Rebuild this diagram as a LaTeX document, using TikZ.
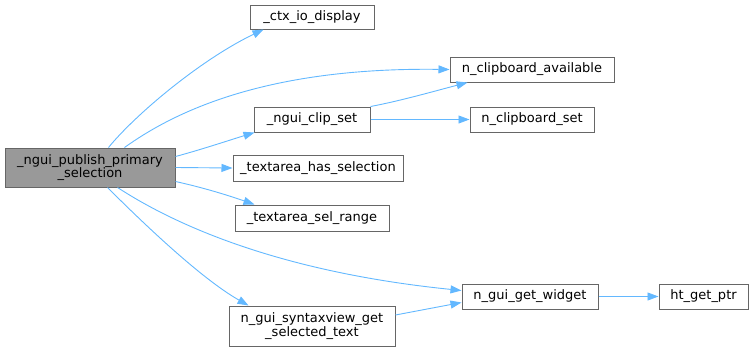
\documentclass[tikz,border=0pt]{standalone}
\usepackage{fontspec}
\setmainfont{DejaVu Sans}
\usetikzlibrary{arrows.meta,calc}
\definecolor{edgeblue}{HTML}{63B8FF}
\definecolor{nodeborder}{HTML}{666666}
\definecolor{mainfill}{HTML}{999999}
\begin{document}
\begin{tikzpicture}[x=1pt,y=-1pt,
  fn/.style={draw=nodeborder, line width=1pt, fill=white, inner sep=0pt,
    font=\fontsize{13}{13.5}\selectfont, align=center, anchor=center},
  call/.style={draw=edgeblue, line width=0.9pt, -{Triangle[length=11pt,width=8pt]}}]
\useasboundingbox (0,0) rectangle (756,351);

\node[fn, fill=mainfill, minimum width=170pt, minimum height=39pt] (main) at (90,167.5) {\_ngui\_publish\_primary\\\_selection};
\node[fn, minimum width=124pt, minimum height=24pt] (ctx) at (312,17) {\_ctx\_io\_display};
\node[fn, minimum width=164pt, minimum height=25pt] (cba) at (532,69.5) {n\_clipboard\_available};
\node[fn, minimum width=116pt, minimum height=25pt] (clip) at (312,119.5) {\_ngui\_clip\_set};
\node[fn, minimum width=124pt, minimum height=25pt] (cbs) at (532,119.5) {n\_clipboard\_set};
\node[fn, minimum width=170pt, minimum height=26pt] (has) at (318,168) {\_textarea\_has\_selection};
\node[fn, minimum width=154pt, minimum height=26pt] (rng) at (312,218) {\_textarea\_sel\_range};
\node[fn, minimum width=136pt, minimum height=25pt] (gw) at (530,296.5) {n\_gui\_get\_widget};
\node[fn, minimum width=89pt, minimum height=25pt] (ht) at (703.5,296.5) {ht\_get\_ptr};
\node[fn, minimum width=166pt, minimum height=40pt] (syn) at (312,326) {n\_gui\_syntaxview\_get\\\_selected\_text};

\draw[call] ($(main.north west)+(104,0)$) .. controls (135,115) and (200,60) .. ($(ctx.south west)+(14,0)$);
\draw[call] ($(main.north west)+(120,0)$) .. controls (170,115) and (260,67) .. (cba.west);
\draw[call] ($(main.north east)+(0,9)$) .. controls (200,150) and (230,140) .. ($(clip.south west)+(1,0)$);
\draw[call] (main.east) -- (has.west);
\draw[call] ($(main.south east)+(0,-6)$) .. controls (205,188) and (230,196) .. ($(rng.north west)+(20,0)$);
\draw[call] ($(main.south west)+(113,0)$) .. controls (160,215) and (260,270) .. ($(gw.west)+(0,-6)$);
\draw[call] ($(main.south west)+(103,0)$) .. controls (140,220) and (200,278) .. ($(syn.north west)+(20,0)$);
\draw[call] (clip.north east) .. controls (400,101) and (435,91) .. ($(cba.south west)+(18,0)$);
\draw[call] (clip.east) -- (cbs.west);
\draw[call] ($(syn.east)+(0,-11)$) -- ($(gw.west)+(0,6)$);
\draw[call] (gw.east) -- (ht.west);
\end{tikzpicture}
\end{document}
